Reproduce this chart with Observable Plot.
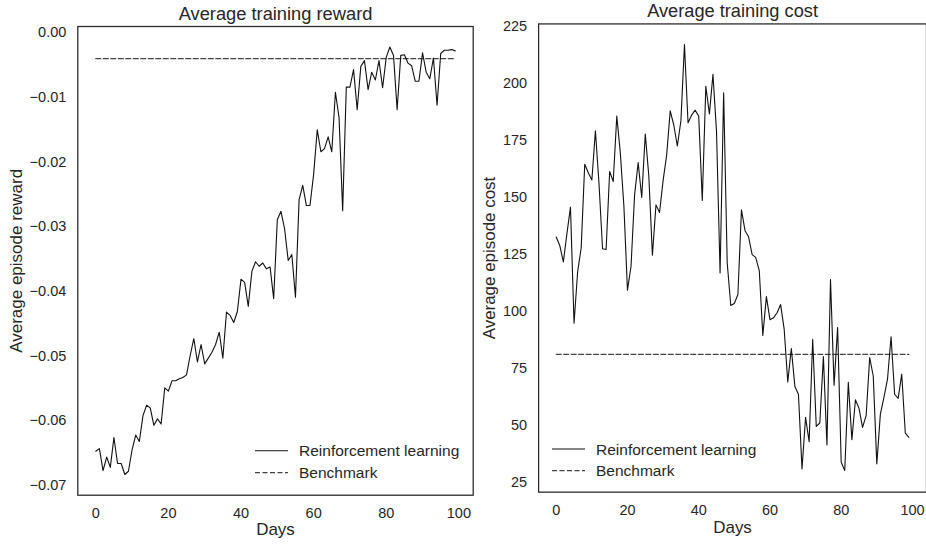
<!DOCTYPE html>
<html><head><meta charset="utf-8">
<script src="https://cdn.jsdelivr.net/npm/d3@7"></script>
<script src="https://cdn.jsdelivr.net/npm/@observablehq/plot@0.6"></script>
<style>
html,body{margin:0;padding:0;background:#fff;overflow:hidden;}
#root{position:relative;width:926px;height:545px;overflow:hidden;background:#fff;}
.panel{position:absolute;top:0;}
#legend{position:absolute;left:0;top:0;}
</style></head><body><div id="root"></div>
<script>
const FONT = '"Liberation Sans", Arial, sans-serif';
const INK = "#262626";
const DASH = "5,2.5";
const BENCH_COLOR = "#444";

const days = d3.range(100);
const reward = [
-0.0647,-0.0643,-0.0677,-0.0656,-0.0672,-0.0626,-0.0666,-0.0666,-0.0683,-0.0678,
-0.0645,-0.0622,-0.0632,-0.0592,-0.0576,-0.0580,-0.0607,-0.0597,-0.0605,-0.0549,
-0.0554,-0.0538,-0.0538,-0.0535,-0.0533,-0.0529,-0.0499,-0.0473,-0.0509,-0.0482,
-0.0512,-0.0503,-0.0494,-0.0482,-0.0463,-0.0503,-0.0432,-0.0437,-0.0448,-0.0431,
-0.0381,-0.0386,-0.0423,-0.0369,-0.0354,-0.0361,-0.0356,-0.0365,-0.0362,-0.0411,
-0.0289,-0.0276,-0.0303,-0.0352,-0.0343,-0.0409,-0.0258,-0.0236,-0.0267,-0.0267,
-0.0219,-0.0150,-0.0184,-0.0179,-0.0161,-0.0184,-0.0092,-0.0131,-0.0275,-0.0084,
-0.0084,-0.0057,-0.0119,-0.0052,-0.0043,-0.0088,-0.0061,-0.0073,-0.0043,-0.0085,
-0.0038,-0.0022,-0.0035,-0.0119,-0.0035,-0.0034,-0.0047,-0.0051,-0.0075,-0.0075,
-0.0031,-0.0061,-0.0071,-0.0039,-0.0112,-0.0032,-0.0027,-0.0027,-0.0026,-0.0028];
const cost = [
132.5,128.7,121.6,134.0,145.6,94.7,117.1,127.7,164.4,160.7,
157.5,179.1,156.1,127.4,127.0,161.2,156.8,185.5,169.2,145.9,
109.2,119.7,151.0,165.1,149.8,177.6,159.0,124.5,146.6,143.3,
157.2,168.4,187.8,181.6,172.4,183.4,216.9,182.6,185.9,188.1,
185.5,148.5,198.6,186.4,203.8,178.6,116.8,195.7,121.2,102.5,
103.4,107.3,144.4,135.3,132.6,124.8,123.6,117.8,89.4,106.4,
96.3,97.1,99.3,102.9,92.0,69.0,83.6,67.0,63.6,30.9,
53.5,42.8,87.7,49.5,51.0,80.1,41.4,113.9,67.6,92.8,
33.8,30.2,68.8,43.7,61.2,57.4,49.1,54.2,79.7,71.6,
33.1,54.9,62.2,70.2,88.8,63.6,61.8,72.4,46.6,44.7];
const rewardBenchmark = -0.0040;
const costBenchmark = 81.1;

const dayTicks = [0, 20, 40, 60, 80, 100];
const rewardTicks = [0, -0.01, -0.02, -0.03, -0.04, -0.05, -0.06, -0.07];
const costTicks = [25, 50, 75, 100, 125, 150, 175, 200, 225];
const titles = ["Average training reward", "Average training cost"];
const yLabels = ["Average episode reward", "Average episode cost"];
const xLabel = "Days";
const legendLabels = ["Reinforcement learning", "Benchmark"];

function panel(o) {
  return Plot.plot({
    width: o.width, height: 545,
    marginLeft: o.mL, marginRight: o.mR, marginTop: o.mT, marginBottom: o.mB,
    style: {fontFamily: FONT, fontSize: "14.5px", color: INK, background: "transparent", overflow: "visible"},
    x: {domain: [-4.95, 103.95]},
    y: {domain: o.yDomain},
    marks: [
      Plot.axisX({ticks: dayTicks, tickSize: 0, tickPadding: 13, label: null, fill: INK}),
      Plot.axisY({ticks: o.yTicks, tickSize: 0, tickPadding: 11.5, tickFormat: o.fmt, label: null, fill: INK}),
      Plot.lineY([o.bench, o.bench], {x: [days[0], days[days.length - 1]], stroke: BENCH_COLOR, strokeWidth: 1.25, strokeDasharray: DASH}),
      Plot.lineY(o.values, {x: days, stroke: "#111", strokeWidth: 1.1}),
      Plot.frame({stroke: INK, strokeWidth: 1.25}),
      Plot.text([o.title], {text: d => d, frameAnchor: "top", lineAnchor: "top", textAnchor: "middle", dy: o.titleDy, fontSize: 18.3, fill: INK}),
      Plot.text([o.ylabel], {text: d => d, frameAnchor: "left", textAnchor: "middle", lineAnchor: "middle", rotate: -90, dx: o.ylabelDx, fontSize: 17, fill: INK}),
      Plot.text([xLabel], {text: d => d, frameAnchor: "bottom", lineAnchor: "top", textAnchor: "middle", dy: o.xlabelDy, fontSize: 17, fill: INK})
    ]
  });
}

const root = document.getElementById("root");
const left = panel({
  values: reward, bench: rewardBenchmark, yDomain: [-0.0715, 0.00097], yTicks: rewardTicks,
  fmt: d3.format(".2f"), title: titles[0], ylabel: yLabels[0],
  width: 480, mL: 77.3, mR: 7.3, mT: 26, mB: 50.3, titleDy: -20, ylabelDx: -60.8, xlabelDy: 27.3
});
const right = panel({
  values: cost, bench: costBenchmark, yDomain: [20.7, 225.9], yTicks: costTicks,
  fmt: d3.format("d"), title: titles[1], ylabel: yLabels[1],
  width: 447.5, mL: 58.3, mR: 0, mT: 23.5, mB: 51.7, titleDy: -19.5, ylabelDx: -49, xlabelDy: 28.7
});
const dl = document.createElement("div"); dl.className = "panel"; dl.style.left = "0px"; dl.appendChild(left);
const dr = document.createElement("div"); dr.className = "panel"; dr.style.left = "480px"; dr.appendChild(right);
root.appendChild(dl); root.appendChild(dr);

// Legends (overlay)
const legendSpecs = [
  {x: 255, y: [450.7, 472.7]},
  {x: 552, y: [449, 470.5]}
];
const ns = "http://www.w3.org/2000/svg";
const lsvg = document.createElementNS(ns, "svg");
lsvg.setAttribute("id", "legend");
lsvg.setAttribute("width", 926); lsvg.setAttribute("height", 545);
lsvg.style.position = "absolute"; lsvg.style.left = "0"; lsvg.style.top = "0";
legendSpecs.forEach(s => {
  legendLabels.forEach((lab, i) => {
    const ln = document.createElementNS(ns, "line");
    ln.setAttribute("x1", s.x); ln.setAttribute("x2", s.x + 33);
    ln.setAttribute("y1", s.y[i]); ln.setAttribute("y2", s.y[i]);
    ln.setAttribute("stroke", i === 0 ? "#111" : BENCH_COLOR);
    ln.setAttribute("stroke-width", i === 0 ? 1.1 : 1.25);
    if (i === 1) ln.setAttribute("stroke-dasharray", DASH);
    lsvg.appendChild(ln);
    const t = document.createElementNS(ns, "text");
    t.setAttribute("x", s.x + 44); t.setAttribute("y", s.y[i] + 5.6);
    t.setAttribute("font-family", FONT); t.setAttribute("font-size", "15.5px");
    t.setAttribute("fill", INK);
    t.textContent = lab;
    lsvg.appendChild(t);
  });
});
root.appendChild(lsvg);
</script>
</body></html>
